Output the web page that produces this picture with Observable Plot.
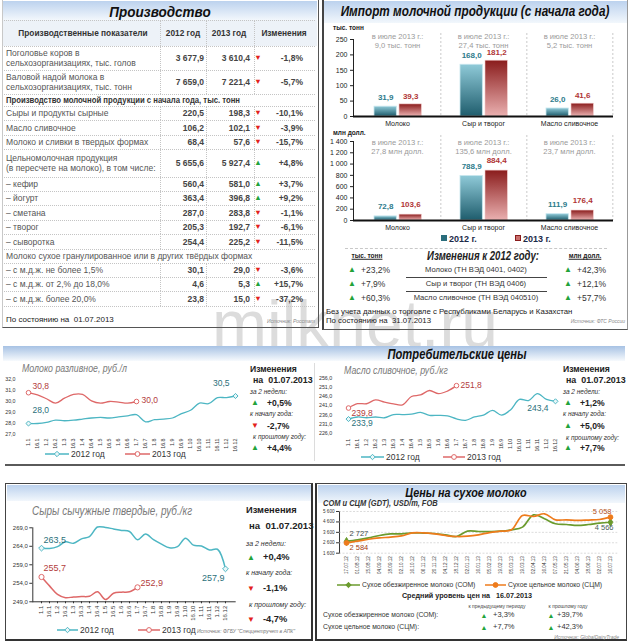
<!DOCTYPE html>
<html lang="ru"><head><meta charset="utf-8">
<script src="https://cdn.jsdelivr.net/npm/d3@7"></script>
<script src="https://cdn.jsdelivr.net/npm/@observablehq/plot@0.6"></script>
<style>
html,body{margin:0;padding:0;background:#fff;}
#root{position:relative;width:630px;height:644px;overflow:hidden;font-family:"Liberation Sans",Arial,sans-serif;color:#3a3a3a;}
</style></head><body><div id="root"></div>
<script>
// ---------------- DATA ----------------
const prodHeader = ["Производственные показатели", "2012 год", "2013 год", "Изменения"];
const prodLabels = [
  ["Поголовье коров в", "сельхозорганизациях, тыс. голов"],
  ["Валовой надой молока в", "сельхозорганизациях, тыс. тонн"],
  ["Производство молочной продукции с начала года, тыс. тонн"],
  ["Сыры и продукты сырные"],
  ["Масло сливочное"],
  ["Молоко и сливки в твердых формах"],
  ["Цельномолочная продукция", "(в пересчете на молоко), в том числе:"],
  ["– кефир"], ["– йогурт"], ["– сметана"], ["– творог"], ["– сыворотка"],
  ["Молоко сухое гранулированное или в других твёрдых формах"],
  ["– с м.д.ж. не более 1,5%"], ["– с м.д.ж. от 2,% до 18,0%"], ["– с м.д.ж. более 20,0%"]
];
const prod2012 = ["3 677,9","7 659,0",null,"220,5","106,2","68,4","5 655,6","560,4","363,4","287,0","205,3","254,4",null,"30,1","4,6","23,8"];
const prod2013 = ["3 610,4","7 221,4",null,"198,3","102,1","57,6","5 927,4","581,0","396,8","283,8","192,7","225,2",null,"29,0","5,3","15,0"];
const prodChange = [-1.8,-5.7,null,-10.1,-3.9,-15.7,4.8,3.7,9.2,-1.1,-6.1,-11.5,null,-3.6,15.7,-37.2];

const impCats = ["Молоко","Сыр и творог","Масло сливочное"];
const impVol2012 = [31.9,168.0,26.0];
const impVol2013 = [39.3,181.2,41.6];
const impVal2012 = [72.8,788.9,111.9];
const impVal2013 = [103.6,884.4,176.4];
const impJulyVol = ["9,0 тыс. тонн","27,4 тыс. тонн","5,2 тыс. тонн"];
const impJulyVal = ["27,8 млн долл.","135,6 млн долл.","23,7 млн долл."];
const impCodes = ["Молоко (ТН ВЭД 0401, 0402)","Сыр и творог (ТН ВЭД 0406)","Масло сливочное (ТН ВЭД 040510)"];
const impChVol = ["+23,2%","+7,9%","+60,3%"];
const impChVal = ["+42,3%","+12,1%","+57,7%"];

const halfMonths = ["1.1","16.1","1.2","16.2","1.3","16.3","1.4","16.4","1.5","16.5","1.6","16.6","1.7","16.7","1.8","16.8","1.9","16.9","1.10","16.10","1.11","16.11","1.12","16.12"];
const milk2012 = [28.0,28.0,28.1,28.3,28.25,28.3,28.4,28.5,28.55,28.5,28.6,28.7,28.8,28.15,28.35,28.4,28.5,28.9,29.2,29.85,29.8,30.35,30.35,30.5];
const milk2013 = [30.8,30.6,30.25,29.85,30.3,30.65,30.65,30.05,29.85,30.0,29.95,29.85,30.0];
const butter2012 = [233.9,235.0,234.6,235.0,234.6,236.3,236.3,236.5,237.5,235.9,235.9,235.6,234.0,233.2,235.0,236.0,238.5,236.0,238.8,244.4,243.8,247.5,244.4,243.4];
const butter2013 = [239.8,242.1,242.1,244.2,243.0,242.0,241.5,246.0,246.8,249.2,247.5,248.9,251.8];
const cheese2012 = [263.5,263.4,263.9,265.2,264.8,266.0,266.6,269.2,269.1,268.7,268.3,268.0,265.8,267.3,265.8,264.6,263.6,263.9,266.2,264.3,264.1,263.0,263.2,257.9];
const cheese2013 = [255.7,253.3,251.0,250.1,250.3,250.4,250.5,251.7,249.6,251.3,251.6,251.7,252.9];
const milkTicks = [27,28,29,30,31,32];
const butterTicks = [226,231,236,241,246,251,256];
const cheeseTicks = [249,254,259,264,269];
const seriesNames = ["2012 год","2013 год"];
const milkChanges = ["+0,5%","-2,7%","+4,4%"];
const butterChanges = ["+1,2%","+5,0%","+7,7%"];
const cheeseChanges = ["+0,4%","-1,1%","-4,7%"];
const changeHeads = ["за 2 недели:","к началу года:","к прошлому году:"];

const gdtDates = ["17.07.12","01.08.12","15.08.12","04.09.12","18.09.12","02.10.12","16.10.12","06.11.12","20.11.12","04.12.12","18.12.12","02.01.13","16.01.13","05.02.13","19.02.13","05.03.13","19.03.13","02.04.13","16.04.13","07.05.13","21.05.13","04.06.13","18.06.13","02.07.13","16.07.13"];
const smpPrice = [2727,2880,3070,3300,3450,3450,3550,3520,3490,3360,3200,3710,3680,3680,3710,3840,4100,5280,4900,4420,4350,4260,4350,4480,4566];
const wmpPrice = [2584,2750,2940,3070,3140,3260,3550,3550,3460,3300,3200,3230,3360,3580,3710,3840,5220,5120,5380,4800,4800,4740,4780,4830,5058];
const gdtTicks = [1600,2600,3600,4600,5600];
const gdtNames = ["Сухое обезжиренное молоко (СОМ)","Сухое цельное молоко (СЦМ)"];
const gdtChPrev = ["+3,3%","+7,7%"];
const gdtChYear = ["+39,7%","+42,3%"];

// ---------------- HELPERS ----------------
const root = document.getElementById("root");
const FONT = "Liberation Sans, Arial, sans-serif";
const RED = "#e3211b", GREEN = "#22a33a";
function add(html, css){ const d=document.createElement("div"); d.style.cssText=css; d.innerHTML=html; root.appendChild(d); return d; }
function T(x,y,s,css="",anchor="start",sx=1){
  const tx = anchor==="end"?"-100%":anchor==="middle"?"-50%":"0";
  const org = anchor==="end"?"right center":anchor==="middle"?"center center":"left center";
  return add(s, `position:absolute;white-space:nowrap;line-height:1;left:${x}px;top:${y}px;transform:translate(${tx},-50%) scaleX(${sx});transform-origin:${org};${css}`);
}
function R(x,y,w,h,css){ return add("", `position:absolute;left:${x}px;top:${y}px;width:${w}px;height:${h}px;box-sizing:border-box;${css}`); }
function place(svg,x,y){ svg.style.position="absolute"; svg.style.left=x+"px"; svg.style.top=y+"px"; root.appendChild(svg); }
const arrow = v => v<0 ? `<span style="color:${RED}">▼</span>` : `<span style="color:${GREEN}">▲</span>`;
const fmt1 = d => d.toFixed(1).replace(".", ",");
const fmtPct = v => (v>0?"+":"") + v.toFixed(1).replace(".", ",") + "%";
const fmtSp = d => d3.format(",")(d).replace(/,/g, " ");
const HDR = "background:linear-gradient(#bcd2ee,#f2f7fc);";
function glyph(x1,x2,y,color,sym,fill){
  const w=x2-x1, m=w/2;
  const mk = sym==="circle" ? `<circle cx="${m}" cy="4" r="2.4" fill="${fill}" stroke="${color}" stroke-width="1"/>`
    : `<path d="M${m},1.3L${m+2.7},4L${m},6.7L${m-2.7},4Z" fill="${fill}" stroke="${color}" stroke-width="1"/>`;
  add(`<svg width="${w}" height="8" style="display:block"><line x1="0" y1="4" x2="${w}" y2="4" stroke="${color}" stroke-width="1.5"/>${mk}</svg>`,
    `position:absolute;left:${x1}px;top:${y-4}px;width:${w}px;height:8px;`);
}
function gradDef(id,c1,c2){
  return () => {
    const defs = d3.create("svg:defs");
    const g = defs.append("linearGradient").attr("id",id).attr("x1",0).attr("y1",0).attr("x2",0).attr("y2",1);
    g.append("stop").attr("offset","0%").attr("stop-color",c1);
    g.append("stop").attr("offset","100%").attr("stop-color",c2);
    return defs.node();
  };
}

// ---------------- WATERMARK (behind) ----------------
T(212,324,"milknet.ru","font-size:66px;line-height:0.7;color:#dcdcdc;");

// ---------------- PANEL FRAMES ----------------
R(2,0,317,328,"border-right:1.5px solid #555;border-bottom:1.5px solid #555;border-left:1px solid #c8c8c8;");
R(3,1,314,19,HDR);
R(3,20,314,26,"background:#edf2f8;");
R(322,0,306,330,"border-left:2px solid #444;border-bottom:1.5px solid #555;border-right:1px solid #999;");
R(324,1,303,22,HDR);
R(3,346,622,15,"background:linear-gradient(#a7c2e4,#f7fafd);");
R(314,363,1,98,"background:#dcdcdc;");
R(5,464,620,2,"background:#5a5a5a;");
R(5,483,308,158,"border:1.5px solid #444;border-right:2px solid #333;border-bottom:2px solid #333;");
R(7,485,304,16,HDR);
R(315,483,312,158,"border:1.5px solid #444;border-left:2.5px solid #333;border-bottom:2px solid #333;");
R(318,485,307,18,HDR);

// ---------------- PRODUCTION TABLE ----------------
const rowTop = [46,70,94,106,120,135,149,177,191,205,220,234,249,263,277,291,306];
T(160,11,"Производство","font-weight:bold;font-style:italic;font-size:15px;color:#111;","middle",0.9);
const hdrX = [83,183,229,284];
prodHeader.forEach((h,i)=>T(hdrX[i],33,h,"font-weight:bold;font-size:8.3px;color:#333;","middle"));
R(4,20,311,1,"border-top:1px dotted #c4c4c4;");
rowTop.forEach(y=>R(4,y,311,1,"border-top:1px dotted #c4c4c4;"));
prodLabels.forEach((lines,i)=>{
  const y0=rowTop[i], y1=rowTop[i+1], yc=(y0+y1)/2;
  const section = prod2012[i]===null;
  if(!section){ [160,206,254].forEach(x=>R(x,y0,1,y1-y0,"border-left:1px dotted #c4c4c4;")); }
  const lab = "font-size:8.5px;color:#555;";
  if(lines.length===2){ T(6,yc-5,lines[0],lab); T(6,yc+5,lines[1],lab); }
  else T(6,yc,lines[0], i===2 ? "font-size:8.3px;font-weight:bold;color:#333;" : lab, "start", i===2?0.93:1);
  if(!section){
    const num="font-size:8.5px;font-weight:bold;color:#444;";
    T(204,yc,prod2012[i],num,"end");
    T(250,yc,prod2013[i],num,"end");
    T(258,yc,arrow(prodChange[i]),"font-size:7.5px;","middle");
    T(303,yc,fmtPct(prodChange[i]),num,"end");
  }
});
[160,206,254].forEach(x=>R(x,20,1,26,"border-left:1px dotted #c4c4c4;"));
T(6,320,"По состоянию на&nbsp; 01.07.2013","font-size:8px;color:#222;");
T(315,321,"Источник: Росстат","font-size:5px;font-style:italic;color:#888;","end");

// ---------------- IMPORT CHARTS ----------------
T(475,11,"Импорт молочной продукции (с начала года)","font-weight:bold;font-style:italic;font-size:14px;color:#111;","middle",0.84);
function importChart(v12,v13,july,yMax,yStep,top,frameT,frameB,id,dyA,dyB,dyJ){
  const rows = impCats.map((c,i)=>({c,a:v12[i],b:v13[i],j:july[i]}));
  const bw = 260/3;
  const svg = Plot.plot({
    width:301, height:frameB-top+16, marginLeft:31, marginRight:10, marginTop:frameT-top, marginBottom:16,
    style:{fontFamily:FONT,fontSize:"7px",background:"transparent",color:"#222",overflow:"visible"},
    x:{domain:impCats,padding:0,tickSize:0,tickPadding:5,label:null},
    y:{domain:[0,yMax],ticks:d3.range(0,yMax+1,yStep),tickSize:3,tickPadding:3,tickFormat:fmtSp,label:null,line:true},
    marks:[
      gradDef(id+"a","#8fcad8","#1f5d6d"),
      gradDef(id+"b","#8a1c1c","#eab0b0"),
      Plot.ruleX(impCats,{x:d=>d,dx:bw/2,stroke:"#bdbdbd",strokeDasharray:"2,2",strokeWidth:0.8,insetTop:-6}),
      Plot.barY(rows,{x:"c",y:"a",fill:`url(#${id}a)`,stroke:"#c7e6ee",strokeWidth:0.8,insetLeft:20,insetRight:bw-43}),
      Plot.barY(rows,{x:"c",y:"b",fill:`url(#${id}b)`,stroke:"#f1c9c9",strokeWidth:0.6,insetLeft:45,insetRight:bw-68}),
      Plot.text(rows,{x:"c",y:"a",text:d=>fmt1(d.a),dx:31.5-bw/2,dy:dyA,fill:"#2d7b8b",fontWeight:"bold",fontSize:8}),
      Plot.text(rows,{x:"c",y:"b",text:d=>fmt1(d.b),dx:56.5-bw/2,dy:dyB,fill:"#b03535",fontWeight:"bold",fontSize:8}),
      Plot.text(rows,{x:"c",frameAnchor:"top",text:()=>"в июле 2013 г.:",dy:dyJ,fill:"#9a9a9a",fontSize:7.6}),
      Plot.text(rows,{x:"c",frameAnchor:"top",text:"j",dy:dyJ+9.5,fill:"#9a9a9a",fontSize:7.6}),
      Plot.ruleY([0],{stroke:"#111",strokeWidth:1.8})
    ]
  });
  place(svg,322,top);
}
importChart(impVol2012,impVol2013,impJulyVol,250,50,28,39,116,"gv",-9,-8,-6);
importChart(impVal2012,impVal2013,impJulyVal,1400,200,131,141,220,"gm",-10,-10,-2);
T(333,27.5,"тыс. тонн","font-size:6.5px;font-weight:bold;color:#222;");
T(333,133,"млн долл.","font-size:6.5px;font-weight:bold;color:#222;");
// legend
add("",`position:absolute;left:441px;top:235px;width:6px;height:6px;background:#2a6d7c;`);
T(449,239,"2012 г.","font-size:9px;font-weight:bold;color:#1c2a48;");
add("",`position:absolute;left:515px;top:235px;width:6px;height:6px;background:#c9706e;border:1px solid #8a1c1c;box-sizing:border-box;`);
T(523,239,"2013 г.","font-size:9px;font-weight:bold;color:#1c2a48;");
R(345,248,262,1,"border-top:1.5px dashed #c8c8c8;");
T(367,256,"тыс. тонн","font-size:6.5px;font-weight:bold;color:#222;text-decoration:underline;","middle");
T(483,256,"Изменения к 2012 году:","font-size:12px;font-weight:bold;font-style:italic;color:#222;","middle",0.8);
T(585,256,"млн долл.","font-size:6.5px;font-weight:bold;color:#222;text-decoration:underline;","middle");
const impRowY=[270,284,298];
impCodes.forEach((c,i)=>{
  const y=impRowY[i];
  T(352,y,arrow(1),"font-size:8px;","middle");
  T(361,y,impChVol[i],"font-size:8.5px;color:#333;");
  T(476,y,c,"font-size:7.6px;color:#333;","middle");
  T(568,y,arrow(1),"font-size:8px;","middle");
  T(577,y,impChVal[i],"font-size:8.5px;color:#333;");
});
R(406,277,141,1,"background:#444;");
R(406,291,141,1,"background:#444;");
T(326,312,"Без учета данных о торговле с Республиками Беларусь и Казахстан","font-size:7.8px;color:#222;");
T(326,321,"По состоянию на","font-size:7.8px;color:#222;");
T(392,321,"31.07.2013","font-size:7.8px;color:#222;");
T(625,321,"Источник: ФТС России","font-size:5px;font-style:italic;color:#888;","end");

// ---------------- LINE CHARTS ----------------
function priceChart(o){
  const A=o.a.map((v,i)=>({x:o.xs[i],y:v})), B=o.b.map((v,i)=>({x:o.xs[i],y:v}));
  const ends = s=>[s[0],s[s.length-1]];
  const marks=[];
  if(o.grid) marks.push(Plot.ruleY(o.yTicks,{stroke:"#c4c4c4",strokeDasharray:"2,1.5",strokeWidth:0.6}));
  marks.push(Plot.line(A,{x:"x",y:"y",stroke:o.colA,strokeWidth:o.sw,curve:"catmull-rom"}));
  marks.push(Plot.line(B,{x:"x",y:"y",stroke:o.colB,strokeWidth:o.sw,curve:"catmull-rom"}));
  marks.push(Plot.dot(ends(A),{x:"x",y:"y",symbol:o.symA,r:o.rA,fill:o.fillA,stroke:o.colA,strokeWidth:1}));
  marks.push(Plot.dot(ends(B),{x:"x",y:"y",symbol:o.symB,r:o.rB,fill:o.fillB,stroke:o.colB,strokeWidth:1}));
  const lab=[[A[0],...o.l[0]],[A[A.length-1],...o.l[1]],[B[0],...o.l[2]],[B[B.length-1],...o.l[3]]];
  lab.forEach(([d,dx,dy,anchor,color])=>marks.push(Plot.text([d],{x:"x",y:"y",text:e=>o.lfmt(e.y),dx,dy,textAnchor:anchor,fill:color,fontSize:o.lfs})));
  const svg=Plot.plot({
    width:o.frameR-o.left+o.mR, height:o.frameB-o.top+o.mB,
    marginLeft:o.frameL-o.left, marginRight:o.mR, marginTop:o.frameT-o.top, marginBottom:o.mB,
    style:{fontFamily:FONT,fontSize:o.fs+"px",background:"transparent",color:"#333",overflow:"visible"},
    x:{type:"point",domain:o.xs,padding:o.pad,tickRotate:-90,tickSize:o.xts,tickPadding:o.xtp,label:null,line:o.xline},
    y:{domain:o.yDomain,ticks:o.yTicks,tickFormat:o.yfmt,tickSize:o.yts,tickPadding:o.ytp,label:null,line:o.yline},
    marks
  });
  place(svg,o.left,o.top);
}
const TEAL="#4db6c3", CORAL="#de6868", TEALT="#2b6f7a", CORALT="#b33c3c";
function changeBlock(x,ys,vals,fsz,bfs){
  T(x,ys[0],"Изменения",`font-size:${bfs}px;font-weight:bold;color:#222;`);
  T(x+3,ys[1],"на&nbsp; 01.07.2013",`font-size:${bfs+0.3}px;font-weight:bold;color:#222;`);
  for(let k=0;k<3;k++){
    T(x+(k===2?3:0),ys[2+2*k],changeHeads[k],`font-size:${fsz}px;font-style:italic;color:#333;`);
    const v=parseFloat(vals[k].replace(",","."));
    T(x+5,ys[3+2*k],arrow(v),"font-size:8px;","middle");
    T(x+17,ys[3+2*k],vals[k],`font-size:${bfs}px;font-weight:bold;color:#222;`);
  }
}

// Consumer prices header
T(457,354,"Потребительские цены","font-weight:bold;font-style:italic;font-size:14px;color:#111;","middle",0.8);

// Milk
T(22,368,"Молоко разливное, руб./л","font-size:11px;font-style:italic;color:#7a7a7a;","start",0.8);
priceChart({left:0,top:370,frameL:23,frameR:240,frameT:379,frameB:434,mR:8,mB:22,pad:0,xs:halfMonths,
  a:milk2012,b:milk2013,yDomain:[27,32],yTicks:milkTicks,yfmt:fmt1,colA:TEAL,colB:CORAL,sw:1.3,
  symA:"diamond2",rA:2.3,fillA:"#e8f6f8",symB:"circle",rB:2.3,fillB:"#fff",fs:5.3,lfs:8.5,lfmt:fmt1,
  xts:0,xtp:4,yts:0,ytp:8,xline:false,yline:false,grid:false,
  l:[[4,-13,"start",TEALT],[-6,-13,"end",TEALT],[4,-6,"start",CORALT],[5,-1,"start",CORALT]]});
glyph(45,69,454,TEAL,"diamond","#e8f6f8"); T(71,454,seriesNames[0],"font-size:8.5px;color:#333;");
glyph(125,150,454,CORAL,"circle","#fff"); T(152,454,seriesNames[1],"font-size:8.5px;color:#333;");
changeBlock(250,[369,380,392,403,414,426,437,448],milkChanges,6.5,8.6);

// Butter
T(344,370,"Масло сливочное, руб./кг","font-size:11px;font-style:italic;color:#7a7a7a;","start",0.8);
priceChart({left:315,top:368,frameL:345.7,frameR:557.7,frameT:377.3,frameB:433.3,mR:6,mB:24,pad:0,xs:halfMonths,
  a:butter2012,b:butter2013,yDomain:[226,256],yTicks:butterTicks,yfmt:fmt1,colA:TEAL,colB:CORAL,sw:1.3,
  symA:"diamond2",rA:2.3,fillA:"#e8f6f8",symB:"circle",rB:2.3,fillB:"#fff",fs:5.3,lfs:8.5,lfmt:fmt1,
  xts:0,xtp:5,yts:0,ytp:14,xline:false,yline:false,grid:false,
  l:[[3,4,"start",TEALT],[-7,7,"end",TEALT],[3,5,"start",CORALT],[4,0,"start",CORALT]]});
glyph(361,384,457,TEAL,"diamond","#e8f6f8"); T(386,457,seriesNames[0],"font-size:8.5px;color:#333;");
glyph(443,465,457,CORAL,"circle","#fff"); T(467,457,seriesNames[1],"font-size:8.5px;color:#333;");
changeBlock(563,[369,380,392,403,414,426,438,448],butterChanges,6.5,8.6);

// Cheese
T(32,511,"Сыры сычужные твердые, руб./кг","font-size:12px;font-style:italic;color:#7a7a7a;","start",0.83);
priceChart({left:5,top:518,frameL:32.3,frameR:234.7,frameT:527.3,frameB:601.3,mR:6,mB:26,pad:0.44,xs:halfMonths,
  a:cheese2012,b:cheese2013,yDomain:[249,269],yTicks:cheeseTicks,yfmt:fmt1,colA:TEAL,colB:CORAL,sw:1.5,
  symA:"diamond2",rA:2.6,fillA:"#e8f6f8",symB:"circle",rB:2.6,fillB:"#fff",fs:6,lfs:9,lfmt:fmt1,
  xts:2,xtp:2,yts:3,ytp:2,xline:true,yline:true,grid:false,
  l:[[2,-8,"start",TEALT],[-1,9,"end",TEALT],[2,-9,"start",CORALT],[3,-4,"start",CORALT]]});
glyph(57,78,630,TEAL,"diamond","#e8f6f8"); T(80,630,seriesNames[0],"font-size:8.5px;color:#333;");
glyph(138,160,630,CORAL,"circle","#fff"); T(162,630,seriesNames[1],"font-size:8.5px;color:#333;");
T(197,631,"Источник: ФГБУ \"Спеццентручет в АПК\"","font-size:5px;font-style:italic;color:#777;");
changeBlock(246,[511,526,543,558,572,589,604,620],cheeseChanges,7,9.3);

// Dry milk
T(466,493,"Цены на сухое молоко","font-weight:bold;font-style:italic;font-size:13.5px;color:#111;","middle",0.8);
T(323,503,"СОМ и СЦМ (GDT), USD/т, FOB","font-size:8.5px;font-style:italic;font-weight:bold;color:#333;","start",0.88);
const GREENL="#6b9b2e", ORANGE="#ee7b1c";
priceChart({left:315,top:504,frameL:339,frameR:617.3,frameT:511,frameB:552.7,mR:6,mB:24,pad:0.29,xs:gdtDates,
  a:smpPrice,b:wmpPrice,yDomain:[1600,5600],yTicks:gdtTicks,yfmt:fmtSp,colA:GREENL,colB:ORANGE,sw:1.7,
  symA:"diamond",rA:2.4,fillA:GREENL,symB:"circle",rB:2.4,fillB:ORANGE,fs:4.6,lfs:7.5,lfmt:fmtSp,
  xts:0,xtp:3,yts:3,ytp:2,xline:false,yline:true,grid:true,
  l:[[3,-8,"start","#3c4a4a"],[3,5,"end","#4a6060"],[3,5,"start","#a33d10"],[1,-6,"end","#b5531a"]]});
glyph(337,360,585,GREENL,"diamond",GREENL); T(362,585,gdtNames[0],"font-size:6.8px;color:#333;");
glyph(485,506,585,ORANGE,"circle",ORANGE); T(508,585,gdtNames[1],"font-size:6.8px;color:#333;");
T(467,596,"Средний уровень цен на&nbsp;&nbsp; 16.07.2013","font-size:7.2px;font-weight:bold;color:#222;","middle");
T(497,606,"к предыдущему периоду","font-size:5px;color:#444;","middle");
T(568,606,"к прошлому году","font-size:5px;color:#444;","middle");
[614.5,627].forEach((y,i)=>{
  T(323,y,gdtNames[i]+":","font-size:6.8px;color:#333;");
  T(484,y,arrow(1),"font-size:7px;","middle");
  T(493,y,gdtChPrev[i],"font-size:7.5px;color:#333;");
  T(551,y,arrow(1),"font-size:7px;","middle");
  T(557,y,gdtChYear[i],"font-size:7.5px;color:#333;");
});
T(619,637,"Источник: GlobalDairyTrade","font-size:5px;font-style:italic;color:#888;","end");
</script></body></html>
